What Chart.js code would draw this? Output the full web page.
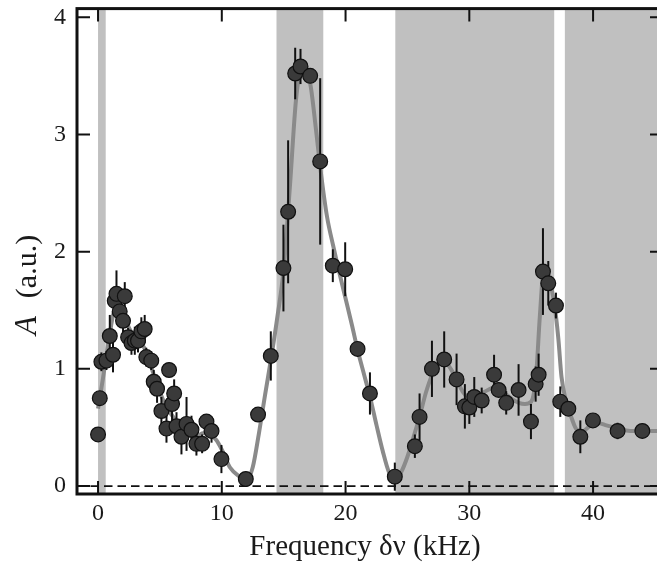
<!DOCTYPE html>
<html><head><meta charset="utf-8">
<script src="https://cdn.jsdelivr.net/npm/chart.js@4.4.1/dist/chart.umd.min.js"></script>
<style>html,body{margin:0;padding:0;overflow:hidden;background:#fff}#wrap{width:672px;height:566px}</style>
</head><body><div id="wrap"><canvas id="c" width="672" height="566"></canvas></div>
<script>
// Measured points: frequency (kHz), amplitude (a.u.), error
const freq = [0.0,0.14,0.27,0.68,0.95,1.21,1.35,1.49,1.75,2.02,2.16,2.43,2.70,2.97,3.23,3.50,3.77,3.90,4.30,4.50,4.77,5.12,5.53,5.74,5.98,6.15,6.34,6.74,7.15,7.55,7.95,8.41,8.76,9.17,9.97,11.94,12.93,13.96,14.98,15.36,15.93,16.36,17.14,17.95,18.97,19.97,20.97,21.97,23.98,25.6,25.98,26.98,27.97,28.97,29.64,30.0,30.4,31.0,32.0,32.37,32.98,33.98,34.98,35.36,35.6,35.95,36.38,37.0,37.35,38.0,38.97,39.99,41.98,43.98];
const amp = [0.44,0.75,1.06,1.07,1.28,1.12,1.58,1.64,1.49,1.41,1.62,1.27,1.22,1.24,1.24,1.32,1.34,1.10,1.07,0.89,0.83,0.64,0.49,0.99,0.70,0.79,0.51,0.42,0.53,0.48,0.36,0.36,0.55,0.47,0.23,0.06,0.61,1.11,1.86,2.34,3.52,3.58,3.50,2.77,1.88,1.85,1.17,0.79,0.08,0.34,0.59,1.00,1.08,0.91,0.68,0.67,0.76,0.73,0.95,0.82,0.71,0.82,0.55,0.87,0.95,1.83,1.73,1.54,0.72,0.66,0.42,0.56,0.47,0.47];
const ampErr = [0.05,0.06,0.08,0.08,0.18,0.15,0.12,0.2,0.10,0.12,0.12,0.08,0.10,0.12,0.10,0.12,0.12,0.08,0.08,0.10,0.12,0.12,0.12,0.05,0.15,0.12,0.12,0.15,0.23,0.12,0.10,0.08,0.06,0.10,0.12,0.03,0.05,0.21,0.37,0.61,0.22,0.15,0.04,0.71,0.14,0.23,0.04,0.18,0.12,0.10,0.20,0.24,0.24,0.22,0.19,0.14,0.17,0.11,0.17,0.05,0.10,0.22,0.15,0.15,0.18,0.37,0.19,0.11,0.13,0.04,0.14,0.04,0.07,0.04];
// Fit curve
const fitFreq = [0,0.4,0.8,1.2,1.6,2.0,2.5,3.0,3.5,4.0,4.5,5.0,5.5,6.0,6.5,7.0,7.5,8.0,8.5,9.0,9.57,10.0,10.65,11.45,12.0,12.5,13.0,13.5,14.0,14.5,15.0,15.5,16.0,16.4,16.8,17.2,17.6,18.0,18.5,19.0,19.5,20.0,20.5,21.0,21.5,22.0,22.5,23.0,23.5,24.0,24.5,25.0,25.5,26.0,26.5,27.0,27.5,28.0,28.5,29.0,29.5,30.0,30.5,31.0,31.5,32.0,32.5,33.0,33.5,34.0,34.5,35.0,35.4,35.7,36.0,36.4,36.8,37.0,37.2,37.45,37.8,38.2,38.7,39.2,39.7,40.3,41.0,42.0,43.0,44.0,45.7];
const fitAmp = [0.66,0.92,1.2,1.45,1.58,1.5,1.35,1.27,1.22,1.12,0.95,0.8,0.68,0.6,0.52,0.46,0.43,0.43,0.45,0.44,0.39,0.31,0.16,0.08,0.05,0.16,0.45,0.78,1.1,1.45,1.85,2.55,3.3,3.55,3.57,3.4,3.05,2.68,2.3,2.05,1.82,1.6,1.38,1.15,0.95,0.75,0.52,0.3,0.12,0.06,0.12,0.25,0.42,0.6,0.8,0.95,1.04,1.06,1.0,0.9,0.8,0.76,0.76,0.79,0.82,0.84,0.82,0.78,0.74,0.71,0.7,0.72,0.95,1.45,1.82,1.78,1.6,1.45,1.25,0.93,0.73,0.6,0.48,0.47,0.51,0.54,0.52,0.49,0.47,0.47,0.47];
// Shaded frequency bands
const bandStart = [0.0, 14.42, 24.02, 37.72];
const bandEnd = [0.62, 18.2, 36.86, 47];
const xTicks = [0,10,20,30,40];
const yTicks = [0,1,2,3,4];
const xTitle = 'Frequency δν (kHz)';
const yTitleSymbol = 'A';
const yTitleUnit = '(a.u.)';

const serif = '"Liberation Serif", "DejaVu Serif", serif';

const decor = {
  id: 'decor',
  beforeDatasetsDraw(chart) {
    const {ctx, chartArea: a, scales: {x, y}} = chart;
    ctx.save();
    ctx.fillStyle = '#c0c0c0';
    for (let i = 0; i < bandStart.length; i++) {
      const x0 = Math.max(a.left, x.getPixelForValue(bandStart[i]));
      const x1 = Math.min(a.right, x.getPixelForValue(bandEnd[i]));
      ctx.fillRect(x0, a.top, x1 - x0, a.bottom - a.top);
    }
    const y0 = y.getPixelForValue(0);
    ctx.strokeStyle = '#111';
    ctx.lineWidth = 1.8;
    ctx.setLineDash([8.5, 5]);
    ctx.beginPath();
    ctx.moveTo(a.left, y0);
    ctx.lineTo(a.right, y0);
    ctx.stroke();
    ctx.restore();
  },
  beforeDatasetDraw(chart, args) {
    if (args.index !== 1) return;
    const {ctx, scales: {x, y}} = chart;
    ctx.save();
    ctx.strokeStyle = '#111';
    ctx.lineWidth = 2;
    for (let i = 0; i < freq.length; i++) {
      const px = x.getPixelForValue(freq[i]);
      ctx.beginPath();
      ctx.moveTo(px, y.getPixelForValue(amp[i] - ampErr[i]));
      ctx.lineTo(px, y.getPixelForValue(amp[i] + ampErr[i]));
      ctx.stroke();
    }
    ctx.restore();
  },
  afterDraw(chart) {
    const {ctx, chartArea: a, scales: {x, y}} = chart;
    ctx.save();
    ctx.strokeStyle = '#111';
    ctx.lineWidth = 3;
    ctx.strokeRect(a.left, a.top, a.right - a.left, a.bottom - a.top);
    ctx.lineWidth = 2;
    const tl = 13;
    ctx.beginPath();
    xTicks.forEach(v => {
      const px = x.getPixelForValue(v);
      ctx.moveTo(px, a.bottom); ctx.lineTo(px, a.bottom - tl);
      ctx.moveTo(px, a.top); ctx.lineTo(px, a.top + tl);
    });
    yTicks.forEach(v => {
      const py = y.getPixelForValue(v);
      ctx.moveTo(a.left, py); ctx.lineTo(a.left + tl, py);
      ctx.moveTo(a.right, py); ctx.lineTo(a.right - tl, py);
    });
    ctx.stroke();
    // axis titles
    ctx.fillStyle = '#1a1a1a';
    ctx.font = '29px ' + serif;
    ctx.textAlign = 'center';
    ctx.textBaseline = 'alphabetic';
    ctx.fillText(xTitle, 365, 555);
    // y title rotated
    ctx.translate(36, 0);
    ctx.rotate(-Math.PI / 2);
    ctx.textAlign = 'left';
    const fItal = 'italic 31px ' + serif;
    const fNorm = '30px ' + serif;
    ctx.font = fItal;
    const wA = ctx.measureText(yTitleSymbol).width;
    ctx.font = fNorm;
    const gap = 18;
    const wU = ctx.measureText(yTitleUnit).width;
    const total = wA + gap + wU;
    const center = -285;
    const start = center - total / 2;
    ctx.font = fItal;
    ctx.fillText(yTitleSymbol, start, 0);
    ctx.font = fNorm;
    ctx.fillText(yTitleUnit, start + wA + gap, 0);
    ctx.restore();
  }
};

new Chart(document.getElementById('c'), {
  type: 'scatter',
  data: {
    datasets: [
      {
        type: 'line',
        data: fitFreq.map((v, i) => ({x: v, y: fitAmp[i]})),
        borderColor: '#8a8a8a',
        borderWidth: 4,
        pointRadius: 0,
        cubicInterpolationMode: 'monotone',
        fill: false,
        order: 2
      },
      {
        type: 'scatter',
        data: freq.map((v, i) => ({x: v, y: amp[i]})),
        backgroundColor: '#3a3a3a',
        borderColor: '#111',
        borderWidth: 1.2,
        pointRadius: 7.4,
        order: 1
      }
    ]
  },
  options: {
    responsive: false,
    animation: false,
    layout: {padding: {top: 5, right: 9, left: 0, bottom: 0}},
    plugins: {legend: {display: false}, tooltip: {enabled: false}, title: {display: false}},
    scales: {
      x: {
        type: 'linear', min: -1.7, max: 45.65,
        afterBuildTicks: s => { s.ticks = xTicks.map(v => ({value: v})); },
        afterFit: s => { s.height = 72; s.paddingLeft = 0; s.paddingRight = 0; },
        grid: {display: false},
        border: {display: false},
        ticks: {padding: 0, maxRotation: 0, color: '#1a1a1a', font: {family: serif, size: 24, lineHeight: 1}}
      },
      y: {
        type: 'linear', min: -0.068, max: 4.074,
        afterBuildTicks: s => { s.ticks = yTicks.map(v => ({value: v})); },
        afterFit: s => { s.width = 77; s.paddingTop = 0; s.paddingBottom = 0; },
        grid: {display: false},
        border: {display: false},
        ticks: {padding: 3, color: '#1a1a1a', font: {family: serif, size: 24}}
      }
    }
  },
  plugins: [decor]
});
</script>
</body></html>
